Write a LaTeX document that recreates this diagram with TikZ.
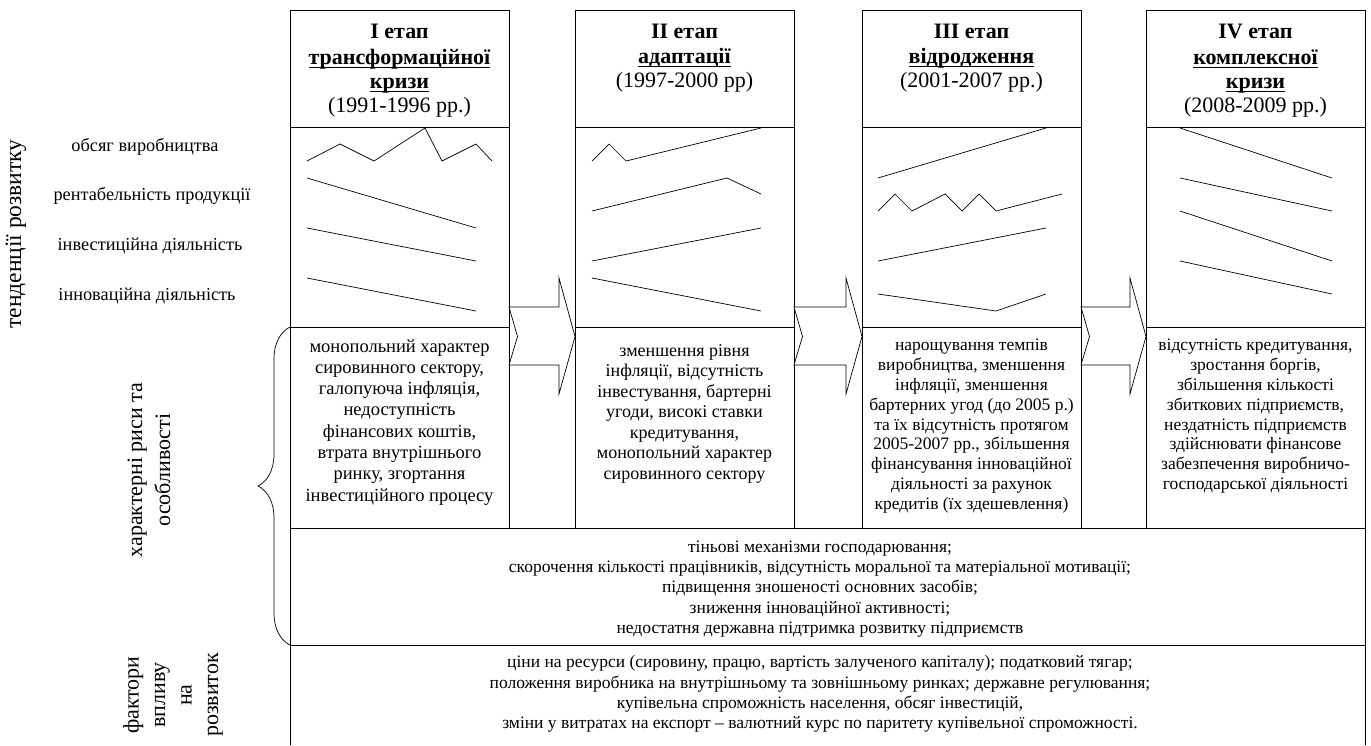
\documentclass[tikz,border=0pt]{standalone}
\usepackage{fontspec}
\setmainfont{Liberation Serif}
\usetikzlibrary{positioning, calc, decorations.pathreplacing}

% підкреслення назви етапу
\newcommand{\stageul}[1]{\setbox0\hbox{\textbf{#1}}\rlap{\vrule width \wd0 height -2.4pt depth 3.6pt}\box0}

% стрілка-шеврон між етапами
\newcommand{\stagearrow}[2]{%
  \draw [stagearrowline] ($(#1.north east)+(0,-20)$) -- ($(#2.north west)+(-16,-20)$) -- ++(0,-29)
    -- ($(#2.north west)+(0,9.5)$) -- ($(#2.north west)+(-16,67)$) -- ++(0,-29)
    -- ($(#1.north east)+(0,38)$) -- ($(#1.north east)+(8.5,9.5)$) -- cycle;}

\begin{document}
\begin{tikzpicture}[x=1pt, y=-1pt, line width=0.8pt]
        % стилі блоків і тексту
        \tikzstyle{headbox} = [rectangle, draw=black, minimum width=219pt, minimum height=117pt, inner sep=0pt, outer sep=0pt]
        \tikzstyle{trendbox} = [rectangle, draw=black, minimum width=219pt, minimum height=200pt, inner sep=0pt, outer sep=0pt]
        \tikzstyle{featbox} = [rectangle, draw=black, minimum width=219pt, minimum height=201pt, inner sep=0pt, outer sep=0pt]
        \tikzstyle{headtext} = [anchor=north, align=center, inner sep=0pt, font=\fontsize{22}{24}\selectfont]
        \tikzstyle{feattext} = [anchor=north, align=center, inner sep=0pt, font=\fontsize{18}{20.5}\selectfont]
        \tikzstyle{widetext} = [align=center, inner sep=0pt, font=\fontsize{17.5}{20.2}\selectfont]
        \tikzstyle{rowlabel} = [inner sep=0pt, font=\fontsize{18.3}{20}\selectfont]
        \tikzstyle{sidelabel} = [rotate=90, align=center, inner sep=0pt, font=\fontsize{22}{28}\selectfont]
        \tikzstyle{trendline} = [line width=0.7pt, line join=miter]
        \tikzstyle{stagearrowline} = [line width=0.7pt, line join=miter, fill=white]

        \useasboundingbox (0,0) rectangle (1371,745);

        % I етап
        \node (head1) [headbox, anchor=north west] at (290,10) {};
        \node (trend1) [trendbox, below=0pt of head1] {};
        \node (feat1) [featbox, below=0pt of trend1] {};

        % II етап
        \node (head2) [headbox, right=66pt of head1] {};
        \node (trend2) [trendbox, below=0pt of head2] {};
        \node (feat2) [featbox, below=0pt of trend2] {};

        % III етап
        \node (head3) [headbox, right=68pt of head2] {};
        \node (trend3) [trendbox, below=0pt of head3] {};
        \node (feat3) [featbox, below=0pt of trend3] {};

        % IV етап
        \node (head4) [headbox, right=65pt of head3] {};
        \node (trend4) [trendbox, below=0pt of head4] {};
        \node (feat4) [featbox, below=0pt of trend4] {};

        % спільні риси та фактори
        \node (common) [rectangle, draw=black, minimum width=1075pt, minimum height=117pt, inner sep=0pt, outer sep=0pt, anchor=north west] at (feat1.south west) {};
        \draw (common.south west) -- ++(0,100);
        \draw (common.south east) -- ++(0,100);

        % заголовки етапів
        \node (head1_text) [headtext] at ($(head1.north)+(0,14)$) {\textbf{I етап}\\[2pt]\stageul{трансформаційної}\\\stageul{кризи}\\(1991-1996 рр.)};
        \node (head2_text) [headtext] at ($(head2.north)+(0,14)$) {\textbf{II етап}\\[1pt]\stageul{адаптації}\\(1997-2000 рр)};
        \node (head3_text) [headtext] at ($(head3.north)+(0,14)$) {\textbf{III етап}\\[1pt]\stageul{відродження}\\(2001-2007 рр.)};
        \node (head4_text) [headtext] at ($(head4.north)+(0,14)$) {\textbf{IV етап}\\[2pt]\stageul{комплексної}\\\stageul{кризи}\\(2008-2009 рр.)};

        % тенденції розвитку
        \draw [trendline] (307,161) -- (340,144) -- (374,161) -- (425,128) -- (442,161) -- (476,144) -- (492,161);
        \draw [trendline] (307,178) -- (476,228);
        \draw [trendline] (307,228) -- (476,261);
        \draw [trendline] (307,278) -- (476,311);

        \draw [trendline] (592,161) -- (609,144) -- (626,161) -- (761,128);
        \draw [trendline] (592,211) -- (727,178) -- (761,194);
        \draw [trendline] (592,261) -- (761,228);
        \draw [trendline] (592,278) -- (761,311);

        \draw [trendline] (878,178) -- (1046,128);
        \draw [trendline] (878,211) -- (895,194) -- (912,211) -- (945,194) -- (962,211) -- (979,194) -- (996,211) -- (1062,194);
        \draw [trendline] (878,261) -- (1046,228);
        \draw [trendline] (878,294) -- (996,311) -- (1046,294);

        \draw [trendline] (1180,128) -- (1332,178);
        \draw [trendline] (1180,178) -- (1332,211);
        \draw [trendline] (1180,211) -- (1332,261);
        \draw [trendline] (1180,261) -- (1332,294);

        % характерні риси етапів
        \node (feat1_text) [feattext, font=\fontsize{18.5}{21.3}\selectfont] at ($(feat1.north)+(0,12)$) {монопольний характер\\сировинного сектору,\\галопуюча інфляція,\\недоступність\\фінансових коштів,\\втрата внутрішнього\\ринку, згортання\\інвестиційного процесу};
        \node (feat2_text) [feattext] at ($(feat2.north)+(0,17)$) {зменшення рівня\\інфляції, відсутність\\інвестування, бартерні\\угоди, високі ставки\\кредитування,\\монопольний характер\\сировинного сектору};
        \node (feat3_text) [feattext, font=\fontsize{17.5}{19.8}\selectfont] at ($(feat3.north)+(0,12)$) {нарощування темпів\\виробництва, зменшення\\інфляції, зменшення\\бартерних угод (до 2005 р.)\\та їх відсутність протягом\\2005-2007 рр., збільшення\\фінансування інноваційної\\діяльності за рахунок\\кредитів (їх здешевлення)};
        \node (feat4_text) [feattext, font=\fontsize{17.5}{19.8}\selectfont] at ($(feat4.north)+(0,12)$) {відсутність кредитування,\\зростання боргів,\\збільшення кількості\\збиткових підприємств,\\нездатність підприємств\\здійснювати фінансове\\забезпечення виробничо-\\господарської діяльності};

        \node (common_text) [widetext] at (820,589) {тіньові механізми господарювання;\\скорочення кількості працівників, відсутність моральної та матеріальної мотивації;\\підвищення зношеності основних засобів;\\зниження інноваційної активності;\\недостатня державна підтримка розвитку підприємств};
        \node (factors_text) [widetext] at (820,694) {ціни на ресурси (сировину, працю, вартість залученого капіталу); податковий тягар;\\положення виробника на внутрішньому та зовнішньому ринках; державне регулювання;\\купівельна спроможність населення, обсяг інвестицій,\\зміни у витратах на експорт – валютний курс по паритету купівельної спроможності.};

        % підписи рядків
        \node (side_trend) [sidelabel, font=\fontsize{23.5}{28}\selectfont] at (16,234) {тенденції розвитку};
        \node (row_output) [rowlabel] at (145,147) {обсяг виробництва};
        \node (row_profit) [rowlabel] at (152,196) {рентабельність продукції};
        \node (row_invest) [rowlabel] at (150,246) {інвестиційна діяльність};
        \node (row_innov) [rowlabel] at (147,296) {інноваційна діяльність};
        \node (side_feat) [sidelabel] at (149,470) {характерні риси та\\особливості};
        \node (side_factors) [sidelabel, font=\fontsize{22}{26.5}\selectfont] at (173,695) {фактори\\впливу\\на\\розвиток};

        % фігурна дужка
        \draw [line width=0.7pt, decorate, decoration={brace, amplitude=32pt}] (common.south west) -- (feat1.north west);

        % стрілки між етапами
        \stagearrow{feat1}{feat2}
        \stagearrow{feat2}{feat3}
        \stagearrow{feat3}{feat4}

    \end{tikzpicture}
\end{document}
